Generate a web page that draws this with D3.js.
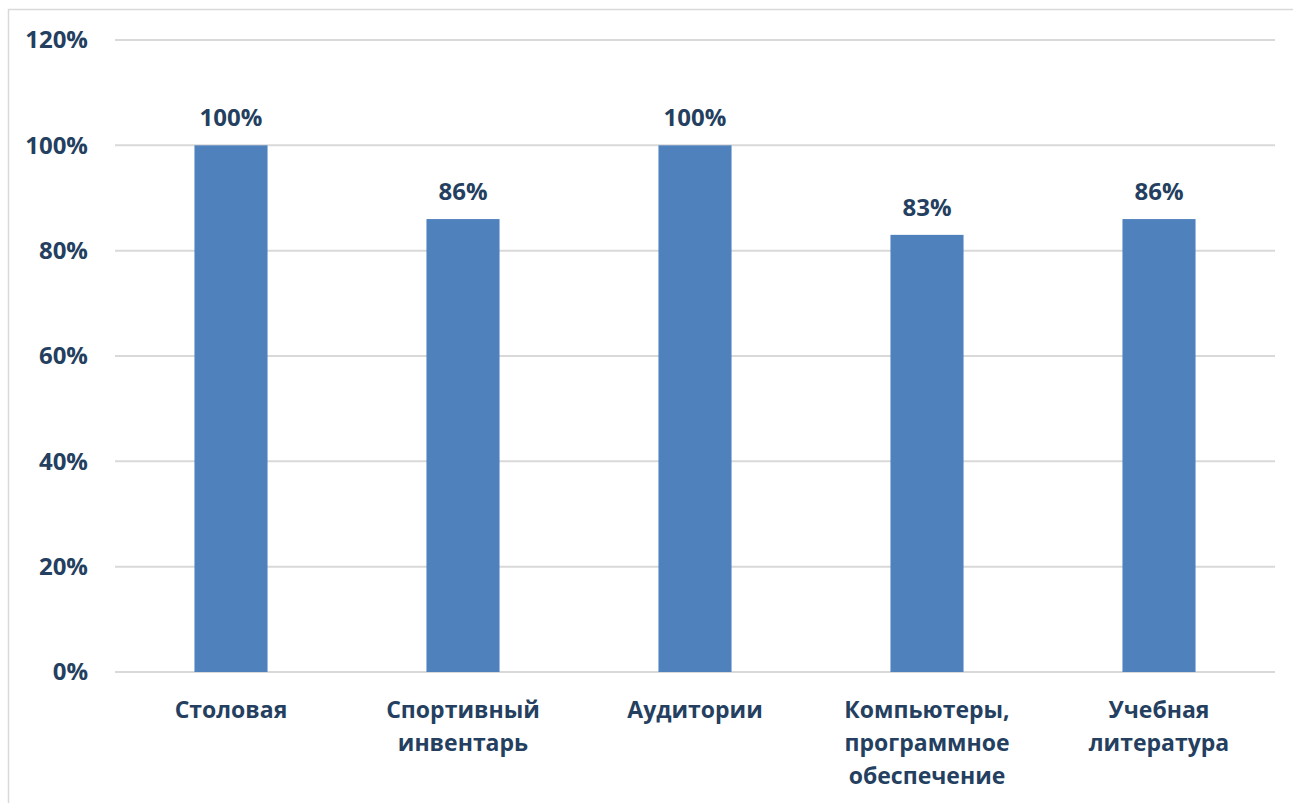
<!DOCTYPE html>
<html><head><meta charset="utf-8">
<script src="https://cdn.jsdelivr.net/npm/d3@7"></script>
<style>body{margin:0;background:#fff;} svg{display:block;}</style>
</head><body>
<svg id="c" width="1293" height="803"></svg>
<script>
const categories = [["Столовая"],["Спортивный","инвентарь"],["Аудитории"],["Компьютеры,","программное","обеспечение"],["Учебная","литература"]];
const values = [100, 86, 100, 83, 86];
const yTicks = [0, 20, 40, 60, 80, 100, 120];

const svg = d3.select("#c");
const W = 1293, H = 803;
const m = {left:115, right:18, top:40, bottom:131};
const font = "'Open Sans', sans-serif";
const txt = "#243F60";

svg.append("rect").attr("x",8.5).attr("y",9.5).attr("width",W).attr("height",H)
  .attr("fill","#fff").attr("stroke","#D9D9D9").attr("stroke-width",1.5);

const x = d3.scaleBand().domain(d3.range(categories.length)).range([m.left, W-m.right]).paddingInner(0.685).paddingOuter(0.3425);
const y = d3.scaleLinear().domain([0,120]).range([H-m.bottom, m.top]);

const grid = svg.append("g");
grid.selectAll("line").data(yTicks).join("line")
  .attr("x1", m.left).attr("x2", W-m.right)
  .attr("y1", d=>y(d)).attr("y2", d=>y(d))
  .attr("stroke","#D9D9D9").attr("stroke-width",2);

const yAxis = svg.append("g").attr("transform",`translate(${m.left-27},0)`)
  .call(d3.axisLeft(y).tickValues(yTicks).tickFormat(d=>d+"%").tickSize(0).tickPadding(0));
yAxis.select(".domain").remove();
yAxis.selectAll("text").attr("font-family",font).attr("font-weight",700).attr("font-size",24).attr("fill",txt);

svg.append("g").selectAll("rect").data(values).join("rect")
  .attr("x",(d,i)=>x(i)).attr("width",x.bandwidth())
  .attr("y",d=>y(d)).attr("height",d=>y(0)-y(d))
  .attr("fill","#4F81BD");

svg.append("g").selectAll("text").data(values).join("text")
  .attr("x",(d,i)=>x(i)+x.bandwidth()/2).attr("y",d=>y(d)-19)
  .attr("text-anchor","middle").attr("font-family",font).attr("font-weight",700).attr("font-size",24).attr("fill",txt)
  .text(d=>d+"%");

const xl = svg.append("g");
categories.forEach((lines,i)=>{
  const t = xl.append("text").attr("text-anchor","middle").attr("font-family",font).attr("font-weight",700).attr("font-size",23).attr("fill",txt);
  lines.forEach((ln,j)=>{
    t.append("tspan").attr("x", x(i)+x.bandwidth()/2).attr("y", y(0)+46+j*33).text(ln);
  });
});
</script>
</body></html>
